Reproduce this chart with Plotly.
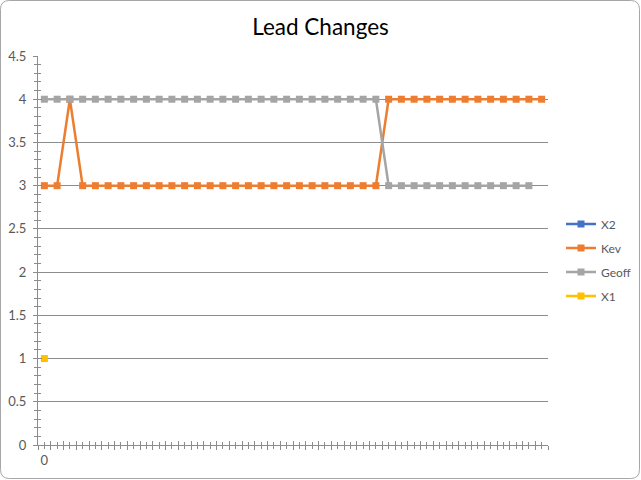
import plotly.graph_objects as go

# ---- data ----
title_text = "Lead Changes"
series_names = ["X2", "Kev", "Geoff", "X1"]
series_colors = ["#4472C4", "#ED7D31", "#A5A5A5", "#FFC000"]
x2_values = [None]
kev_values = [3, 3, 4] + [3] * 24 + [4] * 13
geoff_values = [4] * 27 + [3] * 12
x1_values = [1]
n_categories = 40
category_labels = ["0"] + [""] * (n_categories - 1)
y_tick_values = [0, 0.5, 1, 1.5, 2, 2.5, 3, 3.5, 4, 4.5]
y_tick_labels = ["0", "0.5", "1", "1.5", "2", "2.5", "3", "3.5", "4", "4.5"]

W, H = 641, 480
L, R, T, B = 38, 93, 56, 35
PW, PH = W - L - R, H - T - B

def px_x(px):
    return (px - L) / PW

def px_y(py):
    return (H - B - py) / PH

FONT = "Lato, Carlito, Calibri, sans-serif"
GRID = "#8C8C8C"

fig = go.Figure()
all_values = [x2_values, kev_values, geoff_values, x1_values]
for i, (name, color, vals) in enumerate(zip(series_names, series_colors, all_values)):
    fig.add_trace(go.Scatter(
        x=list(range(len(vals))), y=vals, name=name, mode="lines+markers",
        line=dict(color=color, width=2.5),
        marker=dict(symbol="square", size=7, color=color),
        legendgroup=name, cliponaxis=False,
    ))

# dummy trace for overlay axis (inside ticks)
fig.add_trace(go.Scatter(x=[None], y=[None], xaxis="x2", yaxis="y2",
                         showlegend=False, hoverinfo="skip"))

xr = [-0.5, n_categories - 0.5]
yr = [0, 4.5]

fig.update_layout(
    width=W, height=H, autosize=False,
    margin=dict(l=L, r=R, t=T, b=B, autoexpand=False),
    paper_bgcolor="white", plot_bgcolor="white",
    font=dict(family=FONT, size=12, color="#595959"),
    title=dict(text=title_text, x=0.5, xref="container", xanchor="center",
               y=1 - 27 / H, yanchor="middle",
               font=dict(family=FONT, size=22.5, color="#000000")),
    xaxis=dict(
        range=xr, showgrid=False, zeroline=False,
        showline=True, linecolor=GRID, linewidth=1,
        tickmode="array", tickvals=list(range(n_categories)), ticktext=category_labels,
        ticks="outside", ticklen=3, tickcolor=GRID, tickwidth=1,
        tickfont=dict(family=FONT, size=13, color="#595959"),
        minor=dict(tickmode="array", tickvals=[k - 0.5 for k in range(n_categories + 1)],
                   ticks="outside", ticklen=4, tickcolor=GRID, tickwidth=1),
    ),
    yaxis=dict(
        range=yr, showgrid=True, gridcolor=GRID, gridwidth=1, zeroline=False,
        showline=True, linecolor=GRID, linewidth=1,
        tickmode="array", tickvals=y_tick_values, ticktext=y_tick_labels,
        ticks="outside", ticklen=4, tickcolor=GRID, tickwidth=1,
        ticklabelstandoff=4,
        tickfont=dict(family=FONT, size=13, color="#595959"),
        minor=dict(dtick=0.1, ticks="outside", ticklen=3, tickcolor=GRID, tickwidth=1,
                   showgrid=False),
    ),
    xaxis2=dict(
        range=xr, overlaying="x", side="bottom", showgrid=False, zeroline=False,
        showline=False, showticklabels=False,
        tickmode="array", tickvals=list(range(n_categories)),
        ticks="inside", ticklen=3, tickcolor=GRID, tickwidth=1,
        minor=dict(tickmode="array", tickvals=[k - 0.5 for k in range(n_categories + 1)],
                   ticks="inside", ticklen=4, tickcolor=GRID, tickwidth=1),
    ),
    yaxis2=dict(
        range=yr, overlaying="y", side="left", showgrid=False, zeroline=False,
        showline=False, showticklabels=False,
        tickmode="array", tickvals=y_tick_values,
        ticks="inside", ticklen=4, tickcolor=GRID, tickwidth=1,
        minor=dict(dtick=0.1, ticks="inside", ticklen=3, tickcolor=GRID, tickwidth=1),
    ),
    legend=dict(
        xref="container", yref="container",
        x=561 / W, xanchor="left", y=1 - 260 / H, yanchor="middle",
        traceorder="grouped", tracegroupgap=5,
        font=dict(family=FONT, size=12, color="#595959"),
        itemwidth=30, bgcolor="rgba(0,0,0,0)",
    ),
    showlegend=True,
)

# rounded chart border
x0, x1 = 0.5, W - 1.5
y0, y1 = 0.5, H - 1.5
r = 9
def P(px, py):
    return f"{px_x(px):.5f},{px_y(py):.5f}"
path = (f"M {P(x0 + r, y0)} L {P(x1 - r, y0)} "
        f"Q {P(x1, y0)} {P(x1, y0 + r)} L {P(x1, y1 - r)} "
        f"Q {P(x1, y1)} {P(x1 - r, y1)} L {P(x0 + r, y1)} "
        f"Q {P(x0, y1)} {P(x0, y1 - r)} L {P(x0, y0 + r)} "
        f"Q {P(x0, y0)} {P(x0 + r, y0)} Z")
fig.add_shape(type="path", path=path, xref="paper", yref="paper",
              line=dict(color="#A6A6A6", width=1), layer="above")

fig.write_html("out.html",
               config={"displayModeBar": False, "responsive": False},
               default_width="641px", default_height="480px",
               post_script="document.body.style.margin='0';document.body.style.overflow='hidden';")
